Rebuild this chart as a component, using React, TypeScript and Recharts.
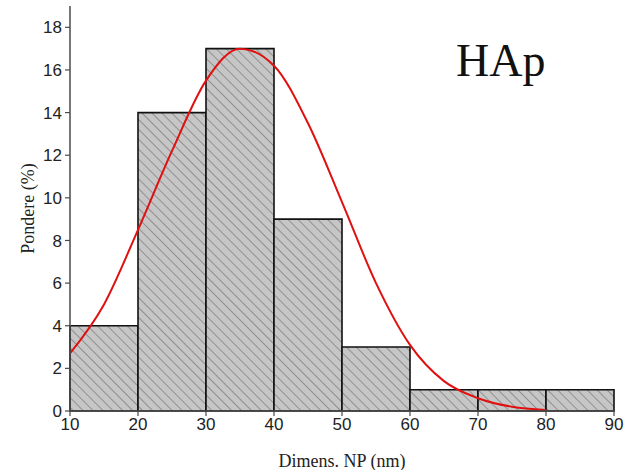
import { ComposedChart, Line, XAxis, YAxis, ReferenceArea, Label } from 'recharts';

// histogram bins (nm) and weights (%)
const binStart = [10, 20, 30, 40, 50, 60, 70, 80];
const binEnd = [20, 30, 40, 50, 60, 70, 80, 90];
const weights = [4, 14, 17, 9, 3, 1, 1, 1];

// fitted curve
const fitX = [10, 15, 20, 25, 30, 35, 40, 45, 50, 55, 60, 65, 70, 75, 80];
const fitY = [2.7, 5.0, 8.5, 12.2, 15.5, 17.0, 16.2, 13.5, 9.8, 6.0, 3.1, 1.4, 0.6, 0.2, 0.05];

const xTicks = [10, 20, 30, 40, 50, 60, 70, 80, 90];
const xMinor = [15, 25, 35, 45, 55, 65, 75, 85];
const yTicks = [0, 2, 4, 6, 8, 10, 12, 14, 16, 18];
const yMinor = [1, 3, 5, 7, 9, 11, 13, 15, 17];

const curve = fitX.map((x, i) => ({ x, y: fitY[i] }));

const axisColor = '#4a4a4a';
const tickFont = { fontFamily: 'Liberation Sans, Arial, sans-serif', fontSize: 17, fill: '#222' };
const titleFont = { fontFamily: 'Liberation Serif, Times New Roman, serif', fontSize: 18, fill: '#222' };
const blank = () => '';

export default function App() {
  return (
    <div style={{ position: 'absolute', left: 0, top: 0, width: 639, height: 470, background: '#fff' }}>
      <ComposedChart width={639} height={470} data={curve} margin={{ top: 6, right: 25, left: 0, bottom: 0 }}>
        <defs>
          <pattern id="hatch" patternUnits="userSpaceOnUse" width="7" height="7" patternTransform="rotate(45)">
            <rect width="7" height="7" fill="#c6c6c6" />
            <line x1="0" y1="0" x2="7" y2="0" stroke="#5a5a5a" strokeWidth="1" />
          </pattern>
        </defs>
        <XAxis
          xAxisId="main"
          dataKey="x"
          type="number"
          domain={[10, 90]}
          ticks={xTicks}
          interval={0}
          height={59}
          tickSize={5}
          tickMargin={2}
          tick={tickFont}
          axisLine={{ stroke: axisColor, strokeWidth: 1.5 }}
          tickLine={{ stroke: axisColor, strokeWidth: 1.2 }}
        >
          <Label value="Dimens. NP (nm)" position="insideBottom" offset={3} style={titleFont} />
        </XAxis>
        <XAxis
          xAxisId="minor"
          type="number"
          domain={[10, 90]}
          ticks={xMinor}
          interval={0}
          height={0}
          tickSize={3}
          tickFormatter={blank}
          axisLine={false}
          tickLine={{ stroke: axisColor, strokeWidth: 1.2 }}
        />
        <XAxis
          xAxisId="top"
          orientation="top"
          type="number"
          domain={[10, 90]}
          height={0}
          tick={false}
          tickLine={false}
          axisLine={{ stroke: axisColor, strokeWidth: 1.5 }}
        />
        <YAxis
          yAxisId="main"
          type="number"
          domain={[0, 19]}
          ticks={yTicks}
          interval={0}
          width={70}
          tickSize={5}
          tickMargin={3}
          tick={tickFont}
          axisLine={{ stroke: axisColor, strokeWidth: 1.5 }}
          tickLine={{ stroke: axisColor, strokeWidth: 1.2 }}
        >
          <Label
            value="Pondere (%)"
            angle={-90}
            position="insideLeft"
            offset={28}
            style={{ ...titleFont, textAnchor: 'middle' }}
          />
        </YAxis>
        <YAxis
          yAxisId="minor"
          type="number"
          domain={[0, 19]}
          ticks={yMinor}
          interval={0}
          width={0}
          tickSize={3}
          tickFormatter={blank}
          axisLine={false}
          tickLine={{ stroke: axisColor, strokeWidth: 1.2 }}
        />
        <YAxis
          yAxisId="right"
          orientation="right"
          type="number"
          domain={[0, 19]}
          width={0}
          tick={false}
          tickLine={false}
          axisLine={{ stroke: axisColor, strokeWidth: 1.5 }}
        />
        {binStart.map((s, i) => (
          <ReferenceArea
            key={s}
            xAxisId="main"
            yAxisId="main"
            x1={s}
            x2={binEnd[i]}
            y1={0}
            y2={weights[i]}
            fill="url(#hatch)"
            fillOpacity={1}
            stroke="#111"
            strokeWidth={1.6}
          />
        ))}
        <Line
          xAxisId="main"
          yAxisId="main"
          dataKey="y"
          type="monotone"
          stroke="#e01010"
          strokeWidth={2}
          dot={false}
          isAnimationActive={false}
        />
      </ComposedChart>
      <div
        style={{
          position: 'absolute',
          left: 456,
          top: 34,
          fontFamily: 'Liberation Serif, Times New Roman, serif',
          fontSize: 46,
          lineHeight: '54px',
          color: '#111',
        }}
      >
        HAp
      </div>
    </div>
  );
}
